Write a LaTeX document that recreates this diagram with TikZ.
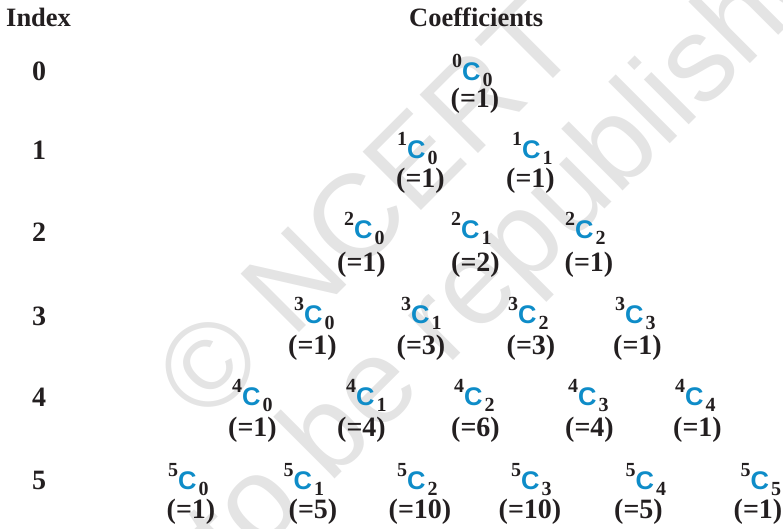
\documentclass[tikz,border=0pt]{standalone}
\usepackage{fontspec}
\setmainfont{Liberation Serif}
\newfontfamily\sansf{Liberation Sans}
\definecolor{txt}{RGB}{35,31,32}
\definecolor{cblue}{RGB}{14,140,200}
\definecolor{wm}{RGB}{228,228,228}
\newcommand{\supfnt}{\rmfamily\bfseries\fontsize{20}{20}\selectfont}
\begin{document}
\begin{tikzpicture}[x=1pt,y=-1pt,
  hdr/.style={anchor=base west,inner sep=0pt,text=txt,font=\bfseries\fontsize{26.5}{28}\selectfont},
  idx/.style={anchor=base,inner sep=0pt,text=txt,font=\bfseries\fontsize{28}{30}\selectfont},
  coef/.style={anchor=base west,inner sep=0pt,text=cblue,font=\sansf\bfseries\fontsize{25.5}{25}\selectfont},
  val/.style={anchor=base,inner sep=0pt,text=txt,font=\bfseries\fontsize{28}{30}\selectfont},
  wmark/.style={anchor=base west,inner sep=0pt,text=wm,rotate=45,font=\sansf\fontsize{120}{120}\selectfont}]
\useasboundingbox (0,0) rectangle (783,528);
% watermark
\node[wmark] (wm1) at (206,426) {© NCERT};
\node[wmark] (wm2) at (94,720) {not to be republished};
% headers
\node[hdr] (hidx) at (6,26) {Index};
\node[hdr] (hcoef) at (409,26) {Coefficients};
% index
\node[idx] (i0) at (39,80) {0};
\node[idx] (i1) at (39,159) {1};
\node[idx] (i2) at (39,241) {2};
\node[idx] (i3) at (39,325) {3};
\node[idx] (i4) at (39,406) {4};
\node[idx] (i5) at (39,489) {5};
% \entry{value}{Cx}{Cy}{valx}{n}{k}{valy}
\newcommand{\entry}[7]{\node[coef] (c#5#6) at (#2,#3) {\makebox[0pt][r]{\textcolor{txt}{\supfnt\raisebox{12.5pt}{#5}}\kern0pt}C\kern2pt\textcolor{txt}{\supfnt\raisebox{-6.5pt}{#6}}};
  \node[val] (v#5#6) at (#4,#7) {(=#1)};}
\entry{1}{462}{80}{475}{0}{0}{107}
\entry{1}{407}{158}{420.5}{1}{0}{187}
\entry{1}{522}{158}{530.5}{1}{1}{187}
\entry{1}{354}{238}{361.5}{2}{0}{271}
\entry{2}{461}{238}{475.5}{2}{1}{271}
\entry{1}{575}{238}{589}{2}{2}{271}
\entry{1}{304}{323}{312.5}{3}{0}{354}
\entry{3}{411}{323}{421}{3}{1}{354}
\entry{3}{518}{323}{531}{3}{2}{354}
\entry{1}{625}{323}{637.5}{3}{3}{354}
\entry{1}{242}{405}{252.5}{4}{0}{436}
\entry{4}{356}{405}{361.5}{4}{1}{436}
\entry{6}{464}{405}{475.5}{4}{2}{436}
\entry{4}{578}{405}{589.5}{4}{3}{436}
\entry{1}{685}{405}{697.5}{4}{4}{436}
\entry{1}{178}{489}{191}{5}{0}{518}
\entry{5}{293.5}{489}{313}{5}{1}{518}
\entry{10}{407}{489}{420}{5}{2}{518}
\entry{10}{521}{489}{530}{5}{3}{518}
\entry{5}{635.5}{489}{638.5}{5}{4}{518}
\entry{1}{750.5}{489}{758}{5}{5}{518}
\end{tikzpicture}
\end{document}
